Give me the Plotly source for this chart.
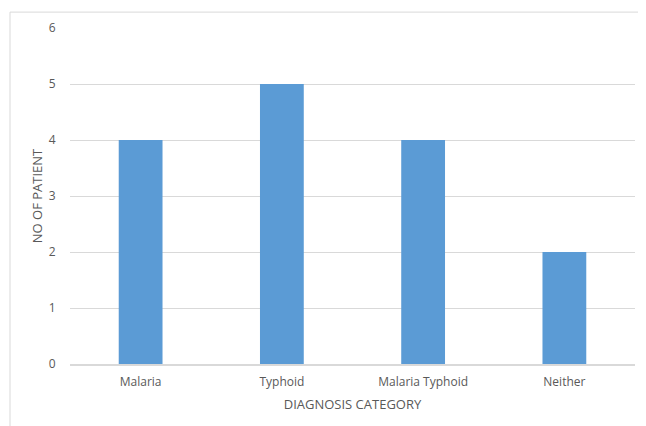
import plotly.graph_objects as go

categories = ["Malaria", "Typhoid", "Malaria Typhoid", "Neither"]
patients = [4, 5, 4, 2]
y_ticks = [0, 1, 2, 3, 4, 5, 6]

OFF = 8  # page body margin
W, H = 646 - OFF, 426 - OFF
L, R, T, B = 70 - OFF, 11, 26 - OFF, 62
pw, ph = W - L - R, H - T - B

def px_x(x):
    return (x - OFF - L) / pw

def px_y(y):
    return (H - B - (y - OFF)) / ph

fig = go.Figure(go.Bar(x=categories, y=patients, marker=dict(color="#5B9BD5", line=dict(width=0))))

fig.update_layout(
    width=W, height=H,
    margin=dict(l=L, r=R, t=T, b=B),
    paper_bgcolor="white", plot_bgcolor="white",
    bargap=0.69,
    showlegend=False,
    font=dict(family="Open Sans", color="#595959", size=12),
    xaxis=dict(
        showgrid=False, showline=True, linecolor="#D9D9D9", linewidth=1.5,
        ticks="outside", ticklen=6, tickcolor="rgba(0,0,0,0)",
        tickfont=dict(size=12, color="#595959"),
        title=dict(text="DIAGNOSIS CATEGORY", font=dict(size=13, color="#595959"), standoff=11),
    ),
    yaxis=dict(
        range=[0, 6], tickvals=y_ticks, showgrid=True, gridcolor="#D9D9D9", gridwidth=1,
        zeroline=False, showline=False, ticks="outside", ticklen=11, tickcolor="rgba(0,0,0,0)",
        tickfont=dict(size=12, color="#595959"),
        title=dict(text="NO OF PATIENT", font=dict(size=13, color="#595959"), standoff=3),
    ),
    shapes=[
        dict(type="line", xref="paper", yref="paper", x0=px_x(10), x1=px_x(660),
             y0=px_y(10), y1=px_y(10), line=dict(color="#D9D9D9", width=1)),
        dict(type="line", xref="paper", yref="paper", x0=px_x(10), x1=px_x(10),
             y0=px_y(10), y1=px_y(440), line=dict(color="#D9D9D9", width=1)),
    ],
)

fig.write_html("out.html")
